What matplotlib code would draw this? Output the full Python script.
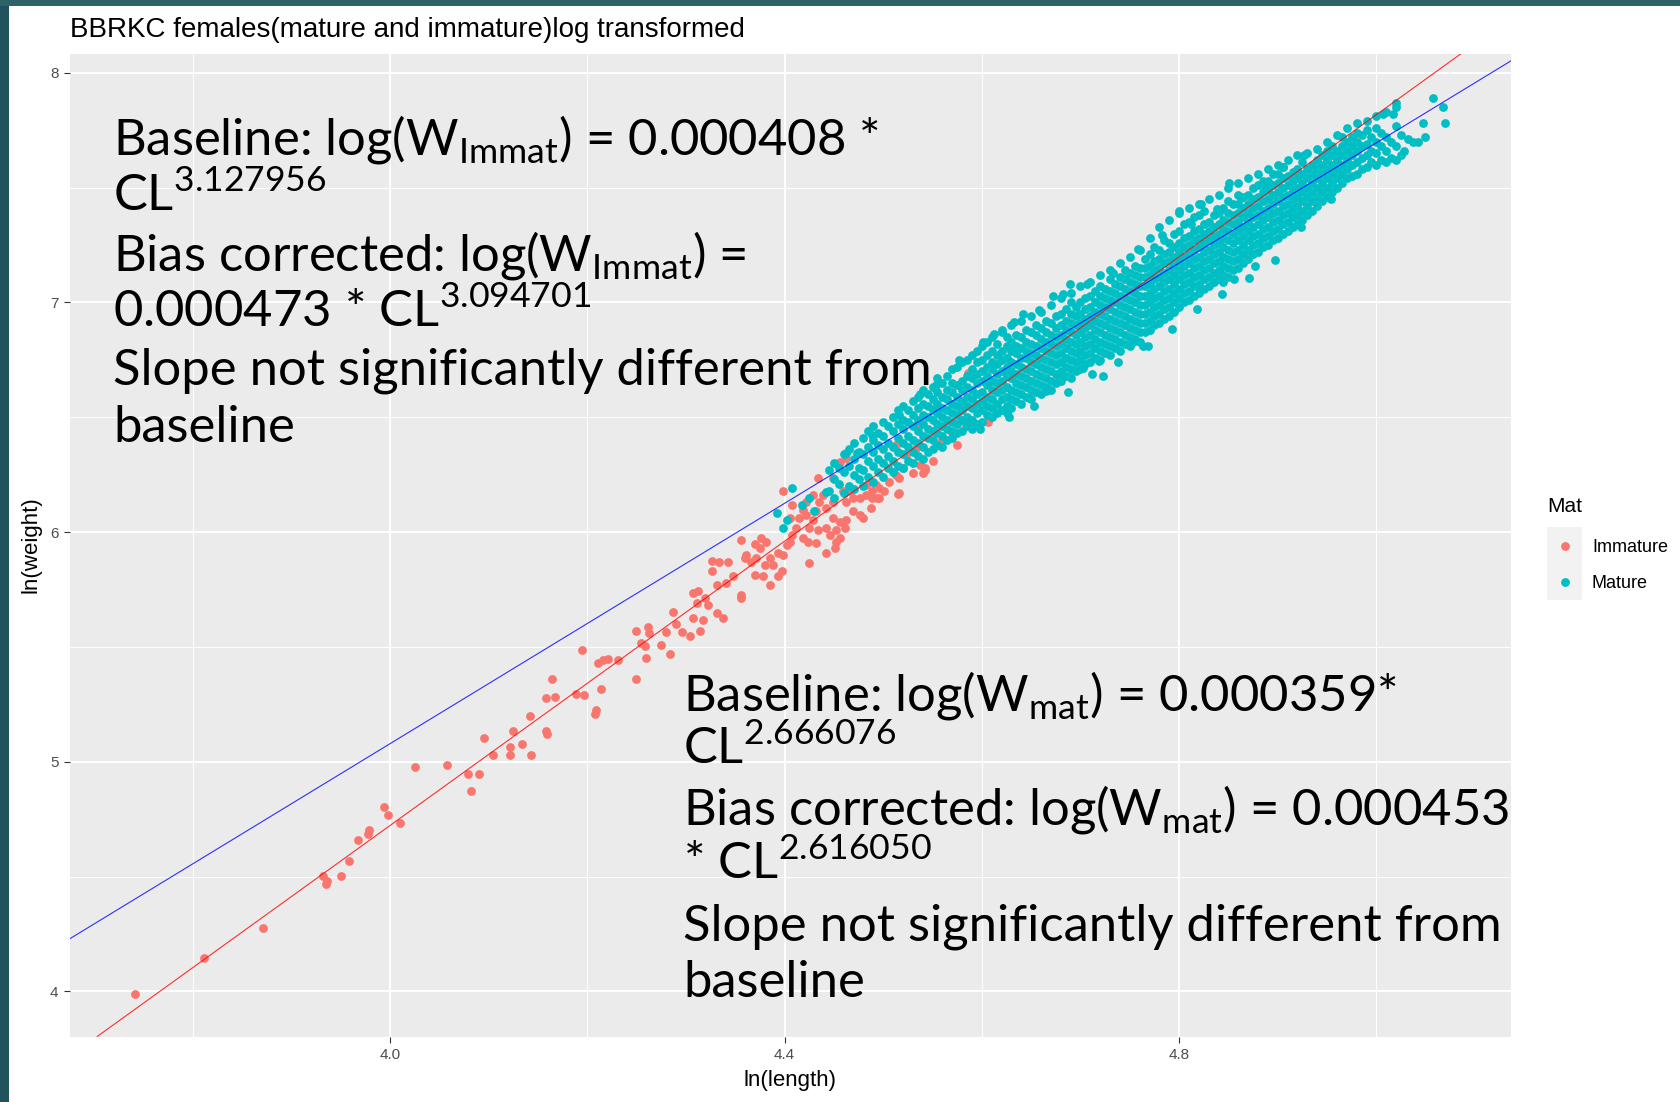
import matplotlib
matplotlib.use("Agg")
import matplotlib.pyplot as plt
from matplotlib.patches import Rectangle

plt.rcParams['mathtext.fontset'] = 'custom'
plt.rcParams['mathtext.rm'] = 'Lato'

W, H = 1681, 1102

# limites y ajustes
x_lim = [3.675, 5.137]
y_lim = [3.804, 8.084]
x_major = [4.0, 4.4, 4.8]
x_labels = ['4.0', '4.4', '4.8']
x_minor = [3.8, 4.2, 4.6, 5.0]
y_major = [4, 5, 6, 7, 8]
y_labels = ['4', '5', '6', '7', '8']
y_minor = [4.5, 5.5, 6.5, 7.5]

# rectas: intercepto, pendiente
fit_names = ['Immature fit', 'Mature fit']
fit_intercept = [-7.656, -5.385]
fit_slope = [3.0947, 2.616]
fit_colors = ['#FF0000', '#0000FF']

# hembras inmaduras
imm_x = [3.741, 3.811, 3.871, 3.932, 3.936, 3.935, 3.950, 3.958, 3.968, 3.978, 3.979, 3.994, 3.998, 4.010,
         4.025, 4.058, 4.079, 4.090, 4.082, 4.095, 4.104, 4.122, 4.122, 4.125, 4.134, 4.143, 4.142, 4.158,
         4.159, 4.158, 4.164, 4.167, 4.189, 4.197, 4.214, 4.195, 4.208, 4.209, 4.211, 4.216, 4.221, 4.231,
         4.249, 4.249, 4.262, 4.263, 4.258, 4.260, 4.254, 4.275, 4.280, 4.284, 4.290, 4.287, 4.296,
         4.307, 4.312, 4.319, 4.311, 4.322, 4.307, 4.317, 4.331, 4.338, 4.314, 4.304, 4.326, 4.326, 4.334,
         4.343, 4.331, 4.341, 4.348, 4.356, 4.356, 4.356, 4.361, 4.360, 4.366, 4.371, 4.375, 4.376, 4.370,
         4.381, 4.380, 4.385, 4.388, 4.393, 4.397, 4.370, 4.378, 4.385, 4.393, 4.398, 4.402, 4.405, 4.408,
         4.412, 4.415, 4.419, 4.422, 4.408, 4.405, 4.419, 4.424, 4.425, 4.429, 4.432, 4.435, 4.442, 4.449,
         4.439, 4.429, 4.422, 4.425, 4.432, 4.442, 4.446, 4.452, 4.456, 4.461, 4.462, 4.469, 4.476, 4.479,
         4.456, 4.449, 4.442, 4.434, 4.452, 4.451, 4.466, 4.459, 4.462, 4.469, 4.476, 4.483, 4.488, 4.489,
         4.494, 4.483, 4.486, 4.493, 4.496, 4.506, 4.513, 4.516, 4.516, 4.520, 4.530, 4.540, 4.542, 4.537,
         4.456, 4.462, 4.449, 4.434, 4.398, 4.554, 4.584, 4.587, 4.606, 4.586, 4.537, 4.523, 4.533, 4.513,
         4.542, 4.550, 4.560, 4.570, 4.575, 4.489, 4.496, 4.515, 4.501]
imm_y = [3.989, 4.144, 4.276, 4.504, 4.482, 4.470, 4.501, 4.566, 4.659, 4.687, 4.701, 4.804, 4.767, 4.735,
         4.978, 4.987, 4.946, 4.945, 4.872, 5.102, 5.029, 5.063, 5.028, 5.134, 5.076, 5.028, 5.198, 5.136,
         5.121, 5.278, 5.359, 5.281, 5.297, 5.290, 5.319, 5.488, 5.209, 5.226, 5.432, 5.442, 5.449, 5.442,
         5.360, 5.568, 5.585, 5.561, 5.506, 5.453, 5.519, 5.510, 5.566, 5.468, 5.599, 5.653, 5.566,
         5.735, 5.742, 5.713, 5.691, 5.681, 5.626, 5.619, 5.648, 5.626, 5.568, 5.546, 5.875, 5.829, 5.868,
         5.868, 5.771, 5.778, 5.807, 5.728, 5.713, 5.967, 5.901, 5.887, 5.872, 5.887, 5.930, 5.974, 5.949,
         5.959, 5.858, 5.887, 5.858, 5.909, 5.829, 5.814, 5.807, 5.771, 5.807, 5.901, 5.945, 5.959, 5.988,
         6.017, 6.061, 6.097, 6.133, 6.119, 6.061, 5.974, 5.959, 6.017, 6.054, 6.090, 6.133, 6.104, 6.133,
         6.162, 6.162, 6.075, 5.865, 5.952, 5.909, 5.988, 6.010, 5.974, 6.017, 6.054, 6.090, 6.075, 6.061,
         6.046, 6.061, 6.017, 6.010, 5.959, 5.930, 6.177, 6.177, 6.133, 6.148, 6.148, 6.162, 6.104, 6.177,
         6.148, 6.206, 6.220, 6.206, 6.191, 6.220, 6.249, 6.235, 6.170, 6.278, 6.257, 6.257, 6.271, 6.293,
         6.307, 6.322, 6.235, 6.235, 6.177, 6.541, 6.468, 6.468, 6.478, 6.693, 6.468, 6.338, 6.367, 6.381,
         6.280, 6.310, 6.400, 6.430, 6.380, 6.149, 6.149, 6.164, 6.178]

# hembras maduras: puntos sueltos
mat_x_extra = [4.392, 4.398, 4.402, 4.408, 4.430, 4.442, 4.418, 4.425, 4.462, 4.473, 4.489,
               4.625, 4.648, 4.665, 4.677, 4.692, 4.703, 4.719, 4.723, 4.753, 4.763,
               4.516, 4.537, 4.554, 4.577, 4.601, 4.620, 4.642, 4.672, 4.689,
               4.800, 4.822, 4.851, 4.905, 4.927, 4.821, 4.845, 4.856, 4.877, 4.924, 4.954,
               5.032, 5.037, 5.042, 5.049, 5.047, 5.057, 5.068, 5.070, 5.020, 5.017, 5.007, 5.028,
               4.612, 4.633, 4.658, 4.682, 4.707, 4.733, 4.758, 4.783, 4.812, 4.838, 4.863, 4.888,
               4.598, 4.628, 4.653, 4.687, 4.712, 4.738, 4.768, 4.793, 4.818, 4.843, 4.871, 4.897]
mat_y_extra = [6.083, 6.020, 6.054, 6.194, 6.090, 6.174, 6.120, 6.150, 6.343, 6.343, 6.423,
               6.519, 6.584, 6.613, 6.683, 6.707, 6.714, 6.743, 6.678, 6.830, 6.810,
               6.512, 6.600, 6.640, 6.750, 6.830, 6.880, 6.950, 7.030, 7.080,
               7.400, 7.430, 7.520, 7.590, 7.640, 7.060, 7.090, 7.100, 7.160, 7.330, 7.450,
               7.710, 7.700, 7.700, 7.720, 7.780, 7.890, 7.850, 7.780, 7.870, 7.820, 7.820, 7.660,
               6.862, 6.914, 6.968, 7.036, 7.082, 7.128, 7.231, 7.295, 7.342, 7.408, 7.456, 7.497,
               6.447, 6.503, 6.548, 6.612, 6.689, 6.742, 6.812, 6.884, 6.971, 7.038, 7.105, 7.187]

# hembras maduras: nube densa por columnas de ln(length)
mat_cols = [4.445, 4.450, 4.455, 4.460, 4.465, 4.470, 4.475, 4.480, 4.485, 4.490, 4.495, 4.500,
            4.505, 4.510, 4.515, 4.520, 4.525, 4.530, 4.535, 4.540, 4.545, 4.550, 4.555, 4.560,
            4.565, 4.570, 4.575, 4.580, 4.585, 4.590, 4.595, 4.600, 4.605, 4.610, 4.615, 4.620,
            4.625, 4.630, 4.635, 4.640, 4.645, 4.650, 4.655, 4.660, 4.665, 4.670, 4.675, 4.680,
            4.685, 4.690, 4.695, 4.700, 4.705, 4.710, 4.715, 4.720, 4.725, 4.730, 4.735, 4.740,
            4.745, 4.750, 4.755, 4.760, 4.765, 4.770, 4.775, 4.780, 4.785, 4.790, 4.795, 4.800,
            4.805, 4.810, 4.815, 4.820, 4.825, 4.830, 4.835, 4.840, 4.845, 4.850, 4.855, 4.860,
            4.865, 4.870, 4.875, 4.880, 4.885, 4.890, 4.895, 4.900, 4.905, 4.910, 4.915, 4.920,
            4.925, 4.930, 4.935, 4.940, 4.945, 4.950, 4.955, 4.960, 4.965, 4.970, 4.975, 4.980,
            4.985, 4.990, 4.995, 5.000, 5.005, 5.010, 5.015, 5.020, 5.025]
mat_vals = [
    [6.18, 6.27], [6.15, 6.23, 6.30], [6.21, 6.28], [6.17, 6.26, 6.34], [6.20, 6.29, 6.36],
    [6.19, 6.25, 6.32, 6.39], [6.23, 6.28, 6.35], [6.20, 6.27, 6.34, 6.41], [6.24, 6.31, 6.37, 6.44],
    [6.22, 6.29, 6.35, 6.40, 6.46], [6.26, 6.32, 6.38, 6.43], [6.24, 6.30, 6.36, 6.42, 6.48],
    [6.28, 6.33, 6.39, 6.46], [6.26, 6.31, 6.37, 6.44, 6.50], [6.29, 6.35, 6.41, 6.47, 6.53],
    [6.28, 6.34, 6.39, 6.45, 6.49, 6.55], [6.31, 6.37, 6.42, 6.48, 6.53], [6.30, 6.35, 6.40, 6.46, 6.51, 6.57],
    [6.33, 6.39, 6.44, 6.49, 6.54, 6.59], [6.32, 6.37, 6.42, 6.47, 6.51, 6.56, 6.62],
    [6.35, 6.41, 6.45, 6.50, 6.55, 6.60], [6.36, 6.40, 6.44, 6.49, 6.53, 6.58, 6.63],
    [6.38, 6.43, 6.47, 6.52, 6.56, 6.61, 6.67], [6.37, 6.42, 6.46, 6.50, 6.54, 6.59, 6.65],
    [6.40, 6.45, 6.49, 6.53, 6.58, 6.62, 6.68], [6.41, 6.44, 6.48, 6.52, 6.56, 6.61, 6.65, 6.71],
    [6.43, 6.47, 6.51, 6.55, 6.59, 6.64, 6.72], [6.44, 6.49, 6.53, 6.57, 6.62, 6.66, 6.74],
    [6.46, 6.50, 6.55, 6.59, 6.63, 6.68, 6.75], [6.45, 6.49, 6.54, 6.58, 6.62, 6.67, 6.71, 6.77],
    [6.47, 6.52, 6.56, 6.60, 6.65, 6.69, 6.74, 6.79], [6.48, 6.53, 6.57, 6.61, 6.66, 6.70, 6.75, 6.81],
    [6.51, 6.55, 6.59, 6.64, 6.68, 6.72, 6.77, 6.83], [6.50, 6.54, 6.58, 6.62, 6.66, 6.71, 6.74, 6.79, 6.85],
    [6.52, 6.56, 6.61, 6.65, 6.69, 6.73, 6.77, 6.82], [6.53, 6.58, 6.62, 6.66, 6.70, 6.75, 6.79, 6.87],
    [6.55, 6.59, 6.63, 6.68, 6.72, 6.76, 6.81, 6.85], [6.54, 6.58, 6.62, 6.67, 6.70, 6.74, 6.79, 6.83, 6.90],
    [6.57, 6.61, 6.65, 6.69, 6.73, 6.78, 6.81, 6.86], [6.56, 6.60, 6.64, 6.68, 6.72, 6.76, 6.80, 6.85, 6.92],
    [6.59, 6.63, 6.67, 6.71, 6.76, 6.79, 6.83, 6.88], [6.58, 6.62, 6.66, 6.70, 6.74, 6.78, 6.82, 6.87, 6.94],
    [6.61, 6.65, 6.69, 6.73, 6.77, 6.81, 6.86, 6.90], [6.60, 6.64, 6.68, 6.72, 6.76, 6.80, 6.84, 6.89, 6.96],
    [6.63, 6.67, 6.71, 6.75, 6.79, 6.83, 6.87, 6.92], [6.62, 6.66, 6.70, 6.74, 6.78, 6.82, 6.86, 6.91, 6.99],
    [6.65, 6.69, 6.73, 6.77, 6.81, 6.85, 6.89, 6.94], [6.66, 6.70, 6.74, 6.78, 6.82, 6.86, 6.90, 6.95, 7.02],
    [6.68, 6.72, 6.76, 6.80, 6.84, 6.88, 6.92, 6.97], [6.67, 6.71, 6.75, 6.79, 6.83, 6.87, 6.91, 6.95, 7.00, 7.04],
    [6.70, 6.74, 6.78, 6.82, 6.86, 6.90, 6.94, 6.98], [6.71, 6.75, 6.79, 6.83, 6.87, 6.91, 6.95, 7.00, 7.07],
    [6.73, 6.77, 6.81, 6.85, 6.89, 6.93, 6.97, 7.02], [6.74, 6.78, 6.82, 6.86, 6.90, 6.94, 6.98, 7.03, 7.09],
    [6.76, 6.80, 6.84, 6.88, 6.92, 6.96, 7.00, 7.05], [6.75, 6.79, 6.83, 6.87, 6.91, 6.95, 6.99, 7.03, 7.07, 7.12],
    [6.78, 6.82, 6.86, 6.90, 6.94, 6.98, 7.02, 7.06], [6.77, 6.81, 6.85, 6.89, 6.93, 6.97, 7.01, 7.05, 7.10, 7.14],
    [6.80, 6.84, 6.88, 6.92, 6.96, 7.00, 7.04, 7.08], [6.79, 6.83, 6.87, 6.91, 6.95, 6.99, 7.03, 7.07, 7.11, 7.17],
    [6.82, 6.86, 6.90, 6.94, 6.98, 7.02, 7.06, 7.10, 7.14], [6.81, 6.85, 6.89, 6.93, 6.97, 7.01, 7.05, 7.09, 7.13, 7.20],
    [6.84, 6.88, 6.92, 6.96, 7.00, 7.04, 7.08, 7.12, 7.16], [6.83, 6.87, 6.91, 6.95, 6.99, 7.03, 7.07, 7.11, 7.15, 7.23],
    [6.87, 6.91, 6.95, 6.99, 7.03, 7.07, 7.11, 7.15, 7.19], [6.88, 6.92, 6.96, 7.00, 7.04, 7.08, 7.12, 7.16, 7.21, 7.28],
    [6.90, 6.94, 6.98, 7.02, 7.06, 7.10, 7.14, 7.18, 7.24], [6.91, 6.95, 6.99, 7.03, 7.07, 7.11, 7.15, 7.19, 7.23, 7.33],
    [6.93, 6.97, 7.01, 7.05, 7.09, 7.13, 7.17, 7.21, 7.27], [6.94, 6.98, 7.02, 7.06, 7.10, 7.14, 7.18, 7.22, 7.26, 7.36],
    [6.96, 7.00, 7.04, 7.08, 7.12, 7.16, 7.20, 7.24, 7.30], [6.98, 7.02, 7.06, 7.10, 7.14, 7.18, 7.22, 7.26, 7.31, 7.39],
    [7.00, 7.04, 7.08, 7.12, 7.16, 7.20, 7.24, 7.28, 7.34], [7.01, 7.05, 7.09, 7.13, 7.17, 7.21, 7.25, 7.29, 7.35, 7.41],
    [7.03, 7.07, 7.11, 7.15, 7.19, 7.23, 7.27, 7.31, 7.37], [7.04, 7.08, 7.12, 7.16, 7.20, 7.24, 7.28, 7.32, 7.38, 7.43],
    [7.06, 7.10, 7.14, 7.18, 7.22, 7.26, 7.30, 7.34, 7.40], [7.07, 7.11, 7.15, 7.19, 7.23, 7.27, 7.31, 7.35, 7.45],
    [7.09, 7.13, 7.17, 7.21, 7.25, 7.29, 7.33, 7.38], [7.10, 7.14, 7.18, 7.22, 7.26, 7.30, 7.34, 7.39, 7.47],
    [7.12, 7.16, 7.20, 7.24, 7.28, 7.32, 7.36, 7.41], [7.11, 7.15, 7.19, 7.23, 7.27, 7.31, 7.35, 7.39, 7.44, 7.50],
    [7.14, 7.18, 7.22, 7.26, 7.30, 7.34, 7.38, 7.43], [7.15, 7.19, 7.23, 7.27, 7.31, 7.35, 7.39, 7.43, 7.47, 7.52],
    [7.17, 7.21, 7.25, 7.29, 7.33, 7.37, 7.41, 7.46], [7.19, 7.23, 7.27, 7.31, 7.35, 7.39, 7.43, 7.47, 7.54],
    [7.21, 7.25, 7.29, 7.33, 7.37, 7.41, 7.45, 7.50], [7.22, 7.26, 7.30, 7.34, 7.38, 7.42, 7.46, 7.51, 7.56],
    [7.24, 7.28, 7.32, 7.36, 7.40, 7.44, 7.48, 7.53], [7.25, 7.29, 7.33, 7.37, 7.41, 7.45, 7.49, 7.53, 7.58],
    [7.27, 7.31, 7.35, 7.39, 7.43, 7.47, 7.51, 7.56], [7.28, 7.32, 7.36, 7.40, 7.44, 7.48, 7.52, 7.56, 7.60],
    [7.30, 7.34, 7.38, 7.42, 7.46, 7.50, 7.54, 7.59], [7.31, 7.35, 7.39, 7.43, 7.47, 7.51, 7.55, 7.62],
    [7.33, 7.37, 7.41, 7.45, 7.49, 7.53, 7.57], [7.34, 7.38, 7.42, 7.46, 7.50, 7.54, 7.58, 7.64],
    [7.36, 7.40, 7.44, 7.48, 7.52, 7.56, 7.61], [7.38, 7.42, 7.46, 7.50, 7.54, 7.58, 7.65],
    [7.40, 7.44, 7.48, 7.52, 7.56, 7.60], [7.42, 7.46, 7.50, 7.54, 7.58, 7.62, 7.67],
    [7.44, 7.48, 7.52, 7.56, 7.60, 7.64], [7.46, 7.50, 7.54, 7.58, 7.62, 7.66, 7.70],
    [7.48, 7.52, 7.56, 7.60, 7.64, 7.68], [7.50, 7.54, 7.58, 7.62, 7.66, 7.73],
    [7.52, 7.56, 7.60, 7.64, 7.68, 7.72], [7.54, 7.58, 7.62, 7.66, 7.70, 7.76],
    [7.55, 7.60, 7.64, 7.68, 7.72], [7.56, 7.61, 7.66, 7.70, 7.74, 7.78],
    [7.58, 7.63, 7.68, 7.73], [7.59, 7.64, 7.69, 7.75, 7.79], [7.61, 7.66, 7.72],
    [7.60, 7.65, 7.70, 7.76, 7.81], [7.62, 7.68, 7.74], [7.61, 7.66, 7.72, 7.83],
    [7.63, 7.70], [7.62, 7.68, 7.77, 7.85], [7.64, 7.73]]

mat_x = list(mat_x_extra)
mat_y = list(mat_y_extra)
for cx, ys in zip(mat_cols, mat_vals):
    for yy in ys:
        mat_x.append(cx)
        mat_y.append(yy)

# textos de las ecuaciones
texto_imm = [r'Baseline: log(W$_{\mathrm{Immat}}$) = 0.000408 *',
             r'CL$^{\mathrm{3.127956}}$',
             r'Bias corrected: log(W$_{\mathrm{Immat}}$) =',
             r'0.000473 * CL$^{\mathrm{3.094701}}$',
             'Slope not significantly different from',
             'baseline']
base_imm = [155, 211, 270, 327, 384, 442]
texto_mat = [r'Baseline: log(W$_{\mathrm{mat}}$) = 0.000359*',
             r'CL$^{\mathrm{2.666076}}$',
             r'Bias corrected: log(W$_{\mathrm{mat}}$) = 0.000453',
             r'* CL$^{\mathrm{2.616050}}$',
             'Slope not significantly different from',
             'baseline']
base_mat = [710, 764, 825, 879, 940, 997]

fig = plt.figure(figsize=(W / 100, H / 100), dpi=100)
fig.patch.set_facecolor('white')
ax = fig.add_axes([69.5 / W, 1 - 1036.5 / H, (1511.5 - 69.5) / W, (1036.5 - 53.5) / H])
ax.set_facecolor('#EBEBEB')
ax.set_xlim(x_lim)
ax.set_ylim(y_lim)
for v in x_minor:
    ax.axvline(v, color='white', lw=0.7, zorder=0)
for v in y_minor:
    ax.axhline(v, color='white', lw=0.7, zorder=0)
for v in x_major:
    ax.axvline(v, color='white', lw=1.4, zorder=0)
for v in y_major:
    ax.axhline(v, color='white', lw=1.4, zorder=0)

ax.scatter(imm_x, imm_y, s=40, color='#F8766D', linewidths=0, zorder=2)
ax.scatter(mat_x, mat_y, s=40, color='#00BFC4', linewidths=0, zorder=3)
for b, m, c, nm in zip(fit_intercept, fit_slope, fit_colors, fit_names):
    ax.axline((0, b), slope=m, color=c, lw=0.8, alpha=0.8, zorder=4, label=nm)

for s in ax.spines.values():
    s.set_visible(False)
ax.set_xticks(x_major)
ax.set_xticklabels(x_labels)
ax.set_yticks(y_major)
ax.set_yticklabels(y_labels)
ax.tick_params(length=4, width=0.8, color='#333333', labelcolor='#4D4D4D', labelsize=11, pad=4)
for lab in ax.get_xticklabels() + ax.get_yticklabels():
    lab.set_family('Liberation Sans')
ax.set_xlabel('ln(length)', family='Liberation Sans', fontsize=16, color='black', labelpad=6)
ax.set_ylabel('ln(weight)', family='Liberation Sans', fontsize=16, color='black', labelpad=6)

# titulo
fig.text(70 / W, 1 - 30 / H, 'BBRKC females(mature and immature)log transformed',
         family='Liberation Sans', fontsize=20, va='center', ha='left')

# ecuaciones
for t, yb in zip(texto_imm, base_imm):
    fig.text(113 / W, 1 - yb / H, t, family='Lato', fontsize=36.5, va='baseline', ha='left')
for t, yb in zip(texto_mat, base_mat):
    fig.text(683 / W, 1 - yb / H, t, family='Lato', fontsize=36.5, va='baseline', ha='left')

# leyenda y marco, en coordenadas de pixel
ley = fig.add_axes([0, 0, 1, 1], facecolor='none')
ley.set_xlim(0, W)
ley.set_ylim(H, 0)
ley.axis('off')
ley.add_patch(Rectangle((1547, 527), 35, 73, facecolor='#F2F2F2', edgecolor='none', zorder=1))
ley.scatter([1565], [546], s=40, color='#F8766D', linewidths=0, zorder=2)
ley.scatter([1565], [582], s=40, color='#00BFC4', linewidths=0, zorder=2)
ley.text(1547, 506, 'Mat', family='Liberation Sans', fontsize=15, va='center', ha='left')
ley.text(1592, 547, 'Immature', family='Liberation Sans', fontsize=13, va='center', ha='left')
ley.text(1592, 583, 'Mature', family='Liberation Sans', fontsize=13, va='center', ha='left')
ley.add_patch(Rectangle((0, 0), 9, H, facecolor='#21535D', edgecolor='none', zorder=1))
ley.add_patch(Rectangle((0, 0), W, 6, facecolor='#2B6368', edgecolor='none', zorder=1))

fig.savefig('out.png', dpi=100)
